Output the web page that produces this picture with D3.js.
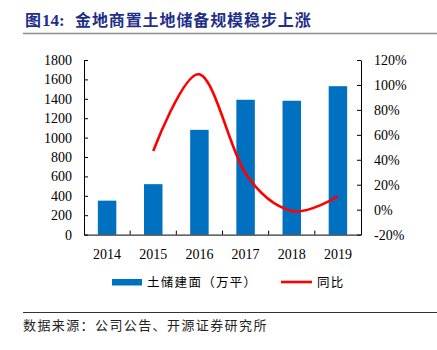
<!DOCTYPE html>
<html>
<head>
<meta charset="utf-8">
<script src="https://cdn.jsdelivr.net/npm/d3@7"></script>
<style>
  body { margin: 0; background: #fff; }
  svg { display: block; }
</style>
</head>
<body>
<svg id="chart"></svg>
<script>
// data
let years = ["2014", "2015", "2016", "2017", "2018", "2019"];
let landArea = [350, 520, 1080, 1390, 1380, 1530];   // 土储建面（万平）
let yoy = [null, 0.47, 1.085, 0.29, -0.01, 0.106];   // 同比
let leftTicks = [0, 200, 400, 600, 800, 1000, 1200, 1400, 1600, 1800];
let rightTicks = [-0.2, 0, 0.2, 0.4, 0.6, 0.8, 1.0, 1.2];

let W = 437, H = 350;
let serif = "'Liberation Serif', 'Times New Roman', serif";
let cjk = "'Noto Sans CJK SC', sans-serif";

let svg = d3.select("#chart").attr("width", W).attr("height", H);

// title
let title = svg.append("text")
    .attr("y", 26)
    .style("font-family", cjk)
    .style("font-weight", "bold")
    .style("font-size", "16px")
    .style("fill", "#1f2f87");
title.append("tspan").attr("x", 25).text("图");
title.append("tspan").attr("x", 42).style("font-family", serif).style("font-size", "17px").text("14:");
title.append("tspan").attr("x", 75).style("letter-spacing", "0.9px").text("金地商置土地储备规模稳步上涨");

svg.append("line")
    .attr("x1", 23).attr("x2", W).attr("y1", 33.5).attr("y2", 33.5)
    .style("stroke", "#8c8c8c").style("stroke-width", 1.5);

// plot area
let margin = {top: 60, left: 84, right: 437 - 361, bottom: 350 - 234.6};
let width = W - margin.left - margin.right,
    height = H - margin.top - margin.bottom;

let g = svg.append("g")
    .attr("transform", "translate(" + margin.left + "," + margin.top + ")");

let x = d3.scaleBand().domain(years).range([0, width]).paddingInner(0.6).paddingOuter(0.3);
let y = d3.scaleLinear().domain([0, 1800]).range([height, 0]);
let y2 = d3.scaleLinear().domain([-0.2, 1.2]).range([height, 0]);

// bars
g.selectAll("rect.bar")
    .data(landArea)
    .enter().append("rect")
    .attr("class", "bar")
    .attr("x", (d, i) => x(years[i]))
    .attr("y", d => y(d))
    .attr("width", x.bandwidth())
    .attr("height", d => height - y(d))
    .style("fill", "#0070c0");

// line
let pts = years.map((yr, i) => ({yr: yr, v: yoy[i]})).filter(d => d.v !== null);
let valueline = d3.line()
    .curve(d3.curveCardinal.tension(0))
    .x(d => x(d.yr) + x.bandwidth() / 2)
    .y(d => y2(d.v));
g.append("path")
    .datum(pts)
    .attr("d", valueline)
    .style("fill", "none")
    .style("stroke", "#ff0000")
    .style("stroke-width", 2.6);

// left axis
let yAxis = g.append("g")
    .call(d3.axisLeft(y).tickValues(leftTicks).tickSize(-4).tickPadding(12).tickSizeOuter(0)
        .tickFormat(d3.format("d")));
yAxis.selectAll("text").style("font-family", serif).style("font-size", "14px").style("fill", "#000");
yAxis.selectAll("line, path").style("stroke", "#000");

// right axis
let y2Axis = g.append("g")
    .attr("transform", "translate(" + width + ",0)")
    .call(d3.axisRight(y2).tickValues(rightTicks).tickSize(-4).tickPadding(13).tickSizeOuter(0)
        .tickFormat(d => Math.round(d * 100) + "%"));
y2Axis.selectAll("text").style("font-family", serif).style("font-size", "14px").style("fill", "#000");
y2Axis.selectAll("line, path").style("stroke", "#000");

// x axis
let xAxis = g.append("g")
    .attr("transform", "translate(0," + height + ")")
    .call(d3.axisBottom(x).tickSize(0).tickPadding(14));
xAxis.selectAll("text").style("font-family", serif).style("font-size", "14px").style("fill", "#000");
xAxis.select("path").style("stroke", "#000");
// category separators
let step = x.step();
g.append("g").selectAll("line")
    .data(d3.range(1, years.length))
    .enter().append("line")
    .attr("x1", d => d * step).attr("x2", d => d * step)
    .attr("y1", height).attr("y2", height - 4)
    .style("stroke", "#000");

// legend
let leg = svg.append("g");
leg.append("rect")
    .attr("x", 112).attr("y", 279).attr("width", 30).attr("height", 6.5)
    .style("fill", "#0070c0");
leg.append("text")
    .attr("x", 147).attr("y", 287)
    .style("font-family", cjk).style("font-size", "12.5px").style("letter-spacing", "1.3px")
    .text("土储建面（万平）");
leg.append("line")
    .attr("x1", 281).attr("x2", 312).attr("y1", 282).attr("y2", 282)
    .style("stroke", "#ff0000").style("stroke-width", 2.6);
leg.append("text")
    .attr("x", 317).attr("y", 287)
    .style("font-family", cjk).style("font-size", "12.5px").style("letter-spacing", "1.3px")
    .text("同比");

// footer
svg.append("line")
    .attr("x1", 23).attr("x2", W).attr("y1", 312.5).attr("y2", 312.5)
    .style("stroke", "#333").style("stroke-width", 1.2);
svg.append("text")
    .attr("x", 23).attr("y", 330)
    .style("font-family", cjk).style("font-size", "13px").style("letter-spacing", "1.4px")
    .style("fill", "#222")
    .text("数据来源：公司公告、开源证券研究所");
</script>
</body>
</html>
